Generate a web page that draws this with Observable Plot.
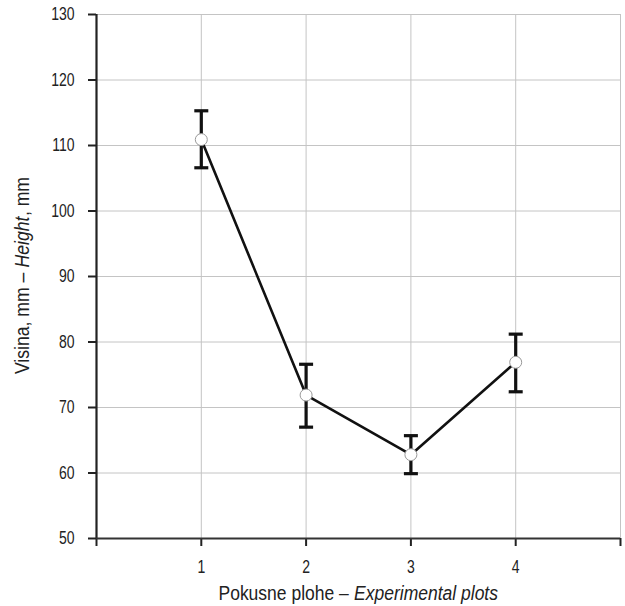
<!DOCTYPE html>
<html>
<head>
<meta charset="utf-8">
<script src="https://cdn.jsdelivr.net/npm/d3@7"></script>
<script src="https://cdn.jsdelivr.net/npm/@observablehq/plot@0.6"></script>
<style>
  html, body { margin: 0; padding: 0; background: #fff; }
  #chart svg { display: block; }
</style>
</head>
<body>
<div id="chart"></div>
<script>
// Data
const plots = [1, 2, 3, 4];
const means = [110.9, 71.9, 62.8, 76.9];
const upper = [115.3, 76.6, 65.7, 81.2];
const lower = [106.6, 67.0, 59.9, 72.4];

const xTicks = [0, 1, 2, 3, 4, 5];
const xTickLabels = ["", "1", "2", "3", "4", ""];
const xGrid = [1, 2, 3, 4, 5];
const yTicks = [50, 60, 70, 80, 90, 100, 110, 120, 130];

const xLabelParts = [["Pokusne plohe – ", false], ["Experimental plots", true]];
const yLabelParts = [["Visina, mm – ", false], ["Height", true], [", mm", false]];

const data = plots.map((p, i) => ({ plot: p, mean: means[i], hi: upper[i], lo: lower[i] }));

const FONT = "'Liberation Sans', Arial, sans-serif";

const capSymbol = {
  draw(context, size) {
    const w = 7;
    context.moveTo(-w, 0);
    context.lineTo(w, 0);
  }
};

const W = 625, H = 606;
const ML = 96, MR = 5, MT = 14, MB = 68;

const chart = Plot.plot({
  width: W,
  height: H,
  marginLeft: ML,
  marginRight: MR,
  marginTop: MT,
  marginBottom: MB,
  style: { fontFamily: FONT, fontSize: "17.5px", color: "#222", background: "#fff" },
  x: { domain: [0, 5], label: null },
  y: { domain: [50, 130], label: null },
  marks: [
    Plot.gridY(yTicks, { stroke: "#c4c4c4", strokeOpacity: 1, strokeWidth: 1 }),
    Plot.gridX(xGrid, { stroke: "#c4c4c4", strokeOpacity: 1, strokeWidth: 1 }),
    Plot.axisY({ ticks: yTicks, tickSize: 8, tickPadding: 14, tickFormat: d => String(d), stroke: "#222", strokeWidth: 2 }),
    Plot.axisX({ ticks: xTicks, tickSize: 8, tickPadding: 14, tickFormat: d => xTickLabels[xTicks.indexOf(d)], stroke: "#222", strokeWidth: 2 }),
    Plot.ruleX([0], { stroke: "#222", strokeWidth: 2.2 }),
    Plot.ruleY([50], { stroke: "#333", strokeWidth: 2.2 }),
    Plot.line(data, { x: "plot", y: "mean", stroke: "#111", strokeWidth: 2.6 }),
    Plot.ruleX(data, { x: "plot", y1: "lo", y2: "hi", stroke: "#111", strokeWidth: 3.2 }),
    Plot.dot(data, { x: "plot", y: "hi", symbol: capSymbol, fill: "none", stroke: "#111", strokeWidth: 3.2 }),
    Plot.dot(data, { x: "plot", y: "lo", symbol: capSymbol, fill: "none", stroke: "#111", strokeWidth: 3.2 }),
    Plot.dot(data, { x: "plot", y: "mean", r: 6, fill: "#fff", stroke: "#999", strokeWidth: 1 })
  ]
});

document.getElementById("chart").appendChild(chart);
const svg = d3.select(chart);

function squeeze(el, k) {
  const len = el.getComputedTextLength();
  if (len > 0) {
    el.setAttribute("textLength", (len * k).toFixed(2));
    el.setAttribute("lengthAdjust", "spacingAndGlyphs");
  }
}

// tick labels: all texts produced by Plot
svg.selectAll("text")
  .style("font-size", "17.5px")
  .style("font-family", FONT)
  .attr("fill", "#222")
  .each(function () { squeeze(this, 0.8); });

// Multi-part title: separate text elements side by side, centered at (cx, cy), condensed by k
function title(parts, cx, cy, rotate, k) {
  const g = svg.append("g").attr("transform", `translate(${cx},${cy}) rotate(${rotate}) scale(${k},1)`);
  const nodes = parts.map(([s, it]) => g.append("text")
    .attr("fill", "#222")
    .attr("text-anchor", "start")
    .style("font-family", FONT)
    .style("font-size", "20px")
    .style("font-style", it ? "italic" : "normal")
    .text(s));
  const widths = nodes.map(t => t.node().getComputedTextLength());
  const total = d3.sum(widths);
  let x = -total / 2;
  nodes.forEach((t, i) => { t.attr("x", x.toFixed(2)).attr("y", 0); x += widths[i] + 0.5; });
}

title(xLabelParts, ML + (W - ML - MR) / 2, 600, 0, 0.875);
title(yLabelParts, 29, MT + (H - MT - MB) / 2, -90, 0.88);
</script>
</body>
</html>
